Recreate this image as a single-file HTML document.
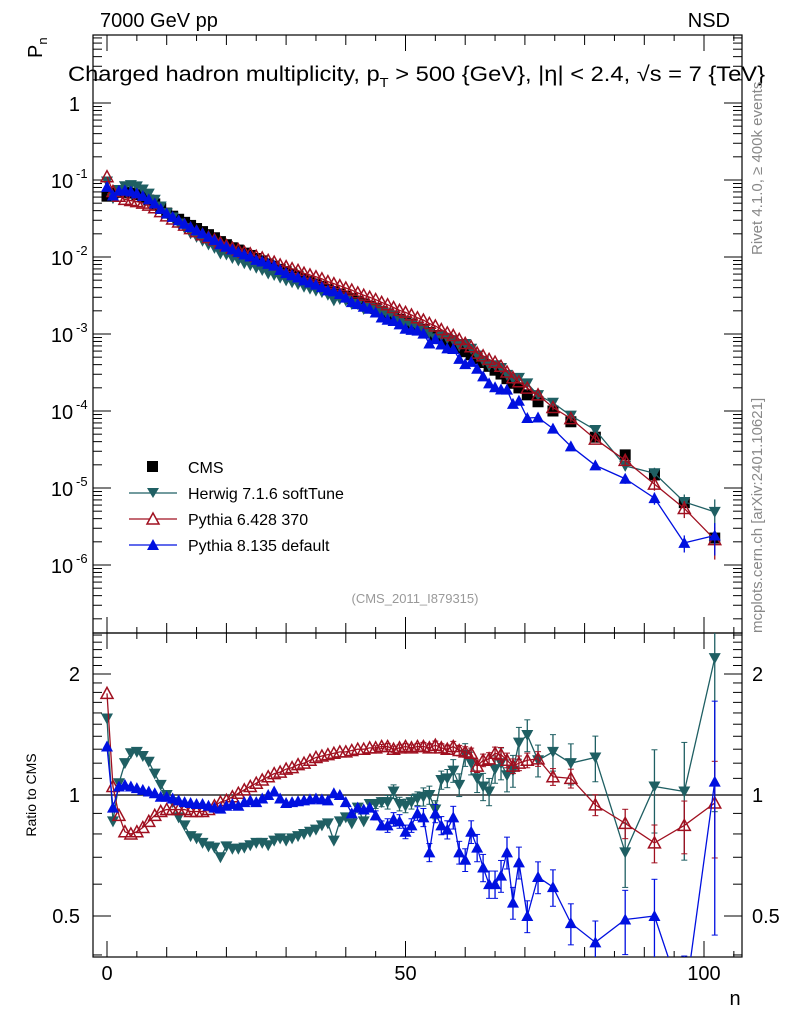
<!DOCTYPE html>
<html><head><meta charset="utf-8"><style>
body{margin:0;background:#fff;}
svg{display:block;font-family:"Liberation Sans",sans-serif;}
</style></head><body>
<svg id="chart" width="786" height="1024" viewBox="0 0 786 1024">
<g id="axes"></g><g id="marks"></g>
<text x="100" y="27" font-size="20">7000 GeV pp</text>
<text x="730" y="27" font-size="20" text-anchor="end">NSD</text>
<text transform="translate(42,58) rotate(-90)" font-size="20">P<tspan font-size="13" dy="5">n</tspan></text>
<text x="68" y="81" font-size="21" textLength="697" lengthAdjust="spacingAndGlyphs">Charged hadron multiplicity, p<tspan font-size="13" dy="6">T</tspan><tspan dy="-6"> &gt; 500 {GeV}, |η| &lt; 2.4, √s = 7 {TeV}</tspan></text>
<text transform="translate(762,255) rotate(-90)" font-size="15" fill="#888">Rivet 4.1.0, ≥ 400k events</text>
<text transform="translate(762,633) rotate(-90)" font-size="15" fill="#888">mcplots.cern.ch [arXiv:2401.10621]</text>
<text x="415" y="603" font-size="13" fill="#999" text-anchor="middle">(CMS_2011_I879315)</text>
<text transform="translate(36,795) rotate(-90)" font-size="14" text-anchor="middle">Ratio to CMS</text>
<text x="735" y="1005" font-size="20" text-anchor="middle">n</text>
<g>
 <rect x="147" y="461" width="11" height="11" fill="#000"/>
 <text x="188" y="473" font-size="16">CMS</text>
 <line x1="129" y1="493" x2="177" y2="493" stroke="#1f5f63" stroke-width="1.2"/>
 <polygon points="147,488 159,488 153,498" fill="#1f5f63"/>
 <text x="188" y="499" font-size="16">Herwig 7.1.6 softTune</text>
 <line x1="129" y1="519" x2="177" y2="519" stroke="#a01020" stroke-width="1.2"/>
 <polygon points="153,513 159,524 147,524" fill="#fff" stroke="#a01020" stroke-width="1.5"/>
 <text x="188" y="525" font-size="16">Pythia 6.428 370</text>
 <line x1="129" y1="545" x2="177" y2="545" stroke="#0010e0" stroke-width="1.2"/>
 <polygon points="153,539 159,550 147,550" fill="#0010e0"/>
 <text x="188" y="551" font-size="16">Pythia 8.135 default</text>
</g>
</svg>
<script>
const nValues=[0,1,2,3,4,5,6,7,8,9,10,11,12,13,14,15,16,17,18,19,20,21,22,23,24,25,26,27,28,29,30,31,32,33,34,35,36,37,38,39,40,41,42,43,44,45,46,47,48,49,50,51,52,53,54,55,56,57,58,59,60,61,62,63,64,65,66,67,68,69,70.4,72.2,74.7,77.7,81.8,86.8,91.7,96.7,101.8];
const cmsLog10=[-1.21,-1.17,-1.16,-1.16,-1.17,-1.19,-1.22,-1.26,-1.31,-1.37,-1.43,-1.47,-1.51,-1.55,-1.59,-1.63,-1.67,-1.71,-1.75,-1.80,-1.84,-1.88,-1.91,-1.95,-1.98,-2.02,-2.05,-2.09,-2.12,-2.16,-2.19,-2.22,-2.25,-2.29,-2.32,-2.35,-2.38,-2.42,-2.45,-2.48,-2.51,-2.54,-2.58,-2.61,-2.64,-2.67,-2.71,-2.74,-2.77,-2.81,-2.84,-2.87,-2.91,-2.94,-2.98,-3.02,-3.06,-3.10,-3.14,-3.18,-3.23,-3.27,-3.32,-3.37,-3.42,-3.47,-3.52,-3.58,-3.64,-3.70,-3.79,-3.88,-4.00,-4.14,-4.34,-4.57,-4.83,-5.19,-5.65];
const herwigRatio=[1.55,0.86,1.07,1.2,1.27,1.28,1.25,1.21,1.13,1.06,1.0,0.96,0.88,0.84,0.79,0.78,0.76,0.745,0.74,0.70,0.745,0.735,0.735,0.74,0.75,0.76,0.76,0.75,0.77,0.78,0.77,0.78,0.79,0.80,0.81,0.82,0.84,0.85,0.77,0.86,0.88,0.85,0.93,0.86,0.95,0.95,0.96,0.96,1.02,0.95,0.94,0.96,0.98,0.99,1.0,0.92,1.09,1.10,1.15,1.06,1.26,1.20,1.10,1.05,1.02,1.16,1.2,1.12,1.15,1.35,1.41,1.22,1.28,1.2,1.24,0.72,1.05,1.02,2.19];
const pythia6Ratio=[1.79,1.05,0.89,0.81,0.80,0.81,0.83,0.86,0.89,0.91,0.92,0.92,0.92,0.92,0.91,0.91,0.91,0.92,0.94,0.96,0.97,0.99,1.01,1.03,1.05,1.07,1.09,1.11,1.13,1.14,1.16,1.17,1.19,1.20,1.22,1.24,1.25,1.26,1.27,1.28,1.28,1.29,1.30,1.30,1.31,1.31,1.32,1.32,1.30,1.31,1.32,1.31,1.32,1.32,1.31,1.33,1.31,1.30,1.32,1.29,1.28,1.27,1.18,1.22,1.23,1.27,1.26,1.22,1.18,1.20,1.22,1.23,1.11,1.10,0.945,0.85,0.76,0.84,0.955];
const pythia8Ratio=[1.32,0.93,1.05,1.06,1.05,1.04,1.03,1.02,1.01,0.99,0.99,0.98,0.97,0.96,0.955,0.95,0.95,0.94,0.93,0.925,0.94,0.95,0.94,0.96,0.97,0.96,0.98,1.0,1.02,0.98,0.955,0.96,0.965,0.97,0.975,0.98,0.975,0.97,1.01,1.0,0.96,0.90,0.93,0.92,0.93,0.89,0.84,0.84,0.87,0.86,0.81,0.84,0.90,0.88,0.72,0.90,0.84,0.82,0.88,0.72,0.69,0.81,0.74,0.66,0.60,0.60,0.63,0.72,0.54,0.68,0.50,0.625,0.59,0.48,0.43,0.49,0.50,0.30,1.08];
const ratioErr=[0,0,0,0,0,0,0,0,0,0,0,0,0,0,0,0,0,0,0,0,0,0,0,0,0,0,0,0,0,0,0,0,0,0,0,0,0,0,0,0,0,0,0,0,0,0.02,0.02,0.03,0.03,0.03,0.03,0.03,0.03,0.04,0.04,0.04,0.04,0.04,0.05,0.05,0.05,0.05,0.06,0.06,0.06,0.06,0.07,0.07,0.07,0.07,0.07,0.07,0.08,0.09,0.1,0.14,0.18,0.25,0.45];
const yMainTickLabels=["1","10","10","10","10","10","10"];
const yMainTickExp=["","-1","-2","-3","-4","-5","-6"];
const yMainTickVals=[0,-1,-2,-3,-4,-5,-6];
const ratioTickVals=[2,1,0.5];
const ratioTickLabels=["2","1","0.5"];
const xTickVals=[0,50,100];
const xTickLabels=["0","50","100"];

const NS="http://www.w3.org/2000/svg";
const L=93,R=742,T=35,MB=633,RB=957;
const xs=n=>107+(n-0)*(704-107)/100;
const ysMain=lg=>103-lg*77;
const ysRatio=r=>795-Math.log2(r)*121;
const axes=document.getElementById('axes'),marks=document.getElementById('marks');
function el(tag,attrs,parent){const e=document.createElementNS(NS,tag);for(const k in attrs)e.setAttribute(k,attrs[k]);(parent||axes).appendChild(e);return e;}

const f1=el('rect',{x:L,y:T,width:R-L,height:MB-T,fill:'none',stroke:'#000','stroke-width':1.2});


const f2=el('rect',{x:L,y:MB,width:R-L,height:RB-MB,fill:'none',stroke:'#000','stroke-width':1.2});


const ref=el('line',{x1:L,x2:R,y1:ysRatio(1),y2:ysRatio(1),stroke:'#000','stroke-width':1.2});



for(let v=0;v<=105;v+=5){
  const x=xs(v);const len=v%50===0?16:(v%10===0?10:6);
  [[T,1],[MB,-1],[MB,1],[RB,-1]].forEach(([y,d])=>el('line',{x1:x,x2:x,y1:y,y2:y+d*len,stroke:'#000','stroke-width':1}));
}
xTickVals.forEach((v,i)=>{const t=el('text',{x:xs(v),y:980,'font-size':20,'text-anchor':'middle'});t.textContent=xTickLabels[i];

});

for(let d=1;d>=-7;d--){for(let m=1;m<10;m++){const lg=d+Math.log10(m);const y=ysMain(lg);if(y<T||y>MB)continue;const len=m===1?18:9;
 el('line',{x1:L,x2:L+len,y1:y,y2:y,stroke:'#000','stroke-width':1});el('line',{x1:R,x2:R-len,y1:y,y2:y,stroke:'#000','stroke-width':1});}}
yMainTickVals.forEach((v,i)=>{const t=el('text',{x:i===0?80:62,y:ysMain(v)+8,'font-size':20,'text-anchor':i===0?'end':'middle'});t.textContent=yMainTickLabels[i];
 
 
 if(yMainTickExp[i]){const s=el('text',{x:76,y:ysMain(v)-2,'font-size':13});s.textContent=yMainTickExp[i];
 
 }});

for(let r=0.4;r<=2.6;r+=0.1){const y=ysRatio(r);if(y<MB||y>RB)continue;const maj=Math.abs(r-1)<0.01||Math.abs(r-2)<0.01||Math.abs(r-0.5)<0.01;const len=maj?18:9;
 el('line',{x1:L,x2:L+len,y1:y,y2:y,stroke:'#000'});el('line',{x1:R,x2:R-len,y1:y,y2:y,stroke:'#000'});}
ratioTickVals.forEach((v,i)=>{[[80,'end'],[752,'start']].forEach(([x,a])=>{const t=el('text',{x:x,y:ysRatio(v)+7,'font-size':20,'text-anchor':a});t.textContent=ratioTickLabels[i];
 
 });});

const defs=el('defs',{});
const c1=el('clipPath',{id:'cm'},defs);el('rect',{x:L,y:T,width:R-L,height:MB-T},c1);
const c2=el('clipPath',{id:'cr'},defs);el('rect',{x:L,y:MB,width:R-L,height:RB-MB},c2);
const gMain=el('g',{'clip-path':'url(#cm)'},marks);
const gRatio=el('g',{'clip-path':'url(#cr)'},marks);

function marker(g,type,x,y,col,name){let m;
 if(type==='sq')m=el('rect',{x:x-5.5,y:y-5.5,width:11,height:11,fill:col},g);
 else if(type==='down')m=el('polygon',{points:`${x-6},${y-5} ${x+6},${y-5} ${x},${y+6}`,fill:col},g);
 else if(type==='openup')m=el('polygon',{points:`${x},${y-6} ${x+6},${y+5} ${x-6},${y+5}`,fill:'none',stroke:col,'stroke-width':1.5},g);
 else m=el('polygon',{points:`${x},${y-6} ${x+6},${y+5} ${x-6},${y+5}`,fill:col},g);
 
 }

const series=[
 {r:herwigRatio,col:'#1f5f63',type:'down',name:'herwig',ef:1.3},
 {r:pythia6Ratio,col:'#a01020',type:'openup',name:'pythia6',ef:0.6},
 {r:pythia8Ratio,col:'#0010e0',type:'up',name:'pythia8',ef:1.3}];

nValues.forEach((n,i)=>marker(gMain,'sq',xs(n),ysMain(cmsLog10[i]),'#000','cms-point'));
series.forEach(s=>{
 const mainPts=nValues.map((n,i)=>[xs(n),ysMain(cmsLog10[i]+Math.log10(s.r[i]))]);
 const pl=el('polyline',{points:mainPts.map(p=>p.join(',')).join(' '),fill:'none',stroke:s.col,'stroke-width':1.3},gMain);
 
 
 const ratPts=nValues.map((n,i)=>[xs(n),ysRatio(s.r[i])]);
 const pr=el('polyline',{points:ratPts.map(p=>p.join(',')).join(' '),fill:'none',stroke:s.col,'stroke-width':1.3},gRatio);
 
 
 nValues.forEach((n,i)=>{const e=ratioErr[i]*s.r[i]*s.ef;if(e>0){const x=xs(n);
   const y1=ysRatio(Math.max(s.r[i]+e,0.01)),y2=ysRatio(Math.max(s.r[i]-e,0.05));
   el('line',{x1:x,x2:x,y1:y1,y2:y2,stroke:s.col,'stroke-width':1.3},gRatio);
   el('line',{x1:x-3,x2:x+3,y1:y1,y2:y1,stroke:s.col},gRatio);el('line',{x1:x-3,x2:x+3,y1:y2,y2:y2,stroke:s.col},gRatio);
   if(i>=70){const ly=cmsLog10[i]+Math.log10(s.r[i]);const ym1=ysMain(ly+Math.log10(1+ratioErr[i])),ym2=ysMain(ly+Math.log10(Math.max(1-ratioErr[i],0.3)));
   el('line',{x1:x,x2:x,y1:ym1,y2:ym2,stroke:s.col,'stroke-width':1.3},gMain);}}});
 mainPts.forEach(p=>marker(gMain,s.type,p[0],p[1],s.col,s.name+'-point'));
 ratPts.forEach(p=>marker(gRatio,s.type,p[0],p[1],s.col,s.name+'-ratio-point'));
});
</script>
</body></html>
